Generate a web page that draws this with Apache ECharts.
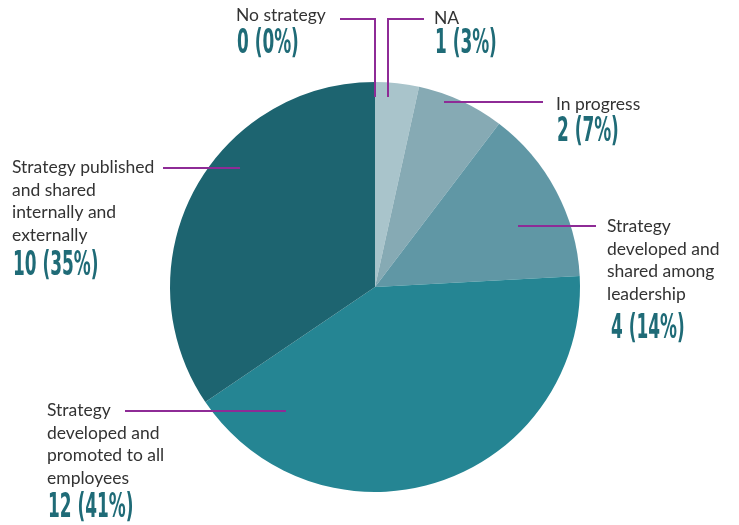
<!DOCTYPE html>
<html>
<head>
<meta charset="utf-8">
<script src="https://cdn.jsdelivr.net/npm/echarts@6/dist/echarts.min.js"></script>
<style>
  html, body { margin: 0; padding: 0; background: #ffffff; }
  #chart { width: 739px; height: 525px; }
</style>
</head>
<body>
<div id="chart"></div>
<script>
// Strategy status of respondents (count and stated share)
const categories = [
  'No strategy',
  'NA',
  'In progress',
  'Strategy developed and shared among leadership',
  'Strategy developed and promoted to all employees',
  'Strategy published and shared internally and externally'
];
const labelLines = [
  ['No strategy'],
  ['NA'],
  ['In progress'],
  ['Strategy', 'developed and', 'shared among', 'leadership'],
  ['Strategy', 'developed and', 'promoted to all', 'employees'],
  ['Strategy published', 'and shared', 'internally and', 'externally']
];
const counts = [0, 1, 2, 4, 12, 10];
const percents = [0, 3, 7, 14, 41, 35];
const colors = ['#a9c4cb', '#a9c4cb', '#86aab4', '#6097a5', '#258593', '#1d6470'];

// Label placement: name block top-left, value text left/middle, leader-line route (pixels)
const labelPos = [
  { x: 236, y: 4,   vx: 237, vy: 44,  line: [[375, 97], [375, 19], [340, 19]] },
  { x: 434, y: 7,   vx: 435, vy: 44,  line: [[388, 97], [388, 19], [424, 19]] },
  { x: 556, y: 93,  vx: 557, vy: 132, line: [[444, 102], [494, 102], [543, 102]] },
  { x: 607, y: 215, vx: 611, vy: 329, line: [[518, 226], [557, 226], [596, 226]] },
  { x: 47,  y: 399, vx: 48,  vy: 508, line: [[286, 411], [205, 411], [125, 411]] },
  { x: 12,  y: 156, vx: 13,  vy: 266, line: [[240, 168], [200, 168], [163, 168]] }
];

const pieData = categories.map((name, i) => ({
  name: name,
  value: counts[i],
  itemStyle: { color: colors[i] }
}));

const labelData = categories.map((name, i) => ({
  name: name,
  value: counts[i],
  label: { formatter: '{n|' + labelLines[i].join('}\n{n|') + '}' }
}));

// Condensed bold value texts ("count (share%)")
const valueTexts = categories.map((name, i) => ({
  type: 'text',
  x: labelPos[i].vx,
  y: labelPos[i].vy,
  scaleX: 0.57,
  silent: true,
  z: 10,
  style: {
    text: counts[i] + ' (' + percents[i] + '%)',
    x: 0,
    y: 0,
    fontFamily: '"DejaVu Sans Condensed", "DejaVu Sans", sans-serif',
    fontWeight: 'bold',
    fontSize: 33,
    fill: '#1f6b77',
    textAlign: 'left',
    textVerticalAlign: 'middle'
  }
}));

const pieCommon = {
  type: 'pie',
  center: [375, 287],
  radius: [0, 205],
  startAngle: 90,
  clockwise: true,
  avoidLabelOverlap: false,
  minAngle: 0,
  stillShowZeroSum: true,
  emphasis: { disabled: true },
  silent: true
};

const chart = echarts.init(document.getElementById('chart'), null, { renderer: 'canvas' });
chart.setOption({
  backgroundColor: '#ffffff',
  animation: false,
  graphic: valueTexts,
  series: [
    Object.assign({}, pieCommon, {
      z: 2,
      itemStyle: { borderWidth: 0 },
      label: { show: false },
      labelLine: { show: false },
      data: pieData
    }),
    // transparent overlay carrying names and leader lines above the slices
    Object.assign({}, pieCommon, {
      z: 5,
      itemStyle: { color: 'rgba(0,0,0,0)', borderWidth: 0 },
      label: {
        show: true,
        position: 'outside',
        overflow: 'none',
        align: 'left',
        rich: {
          n: {
            fontFamily: 'Lato, "Open Sans", sans-serif',
            fontSize: 17.5,
            color: '#333333',
            lineHeight: 22.7,
            align: 'left'
          }
        }
      },
      labelLine: {
        show: true,
        length: 10,
        length2: 10,
        smooth: false,
        lineStyle: { color: '#8e2b96', width: 2 }
      },
      labelLayout: function (params) {
        const p = labelPos[params.dataIndex];
        return {
          x: p.x,
          y: p.y,
          align: 'left',
          verticalAlign: 'top',
          labelLinePoints: p.line
        };
      },
      data: labelData
    })
  ]
});
</script>
</body>
</html>
